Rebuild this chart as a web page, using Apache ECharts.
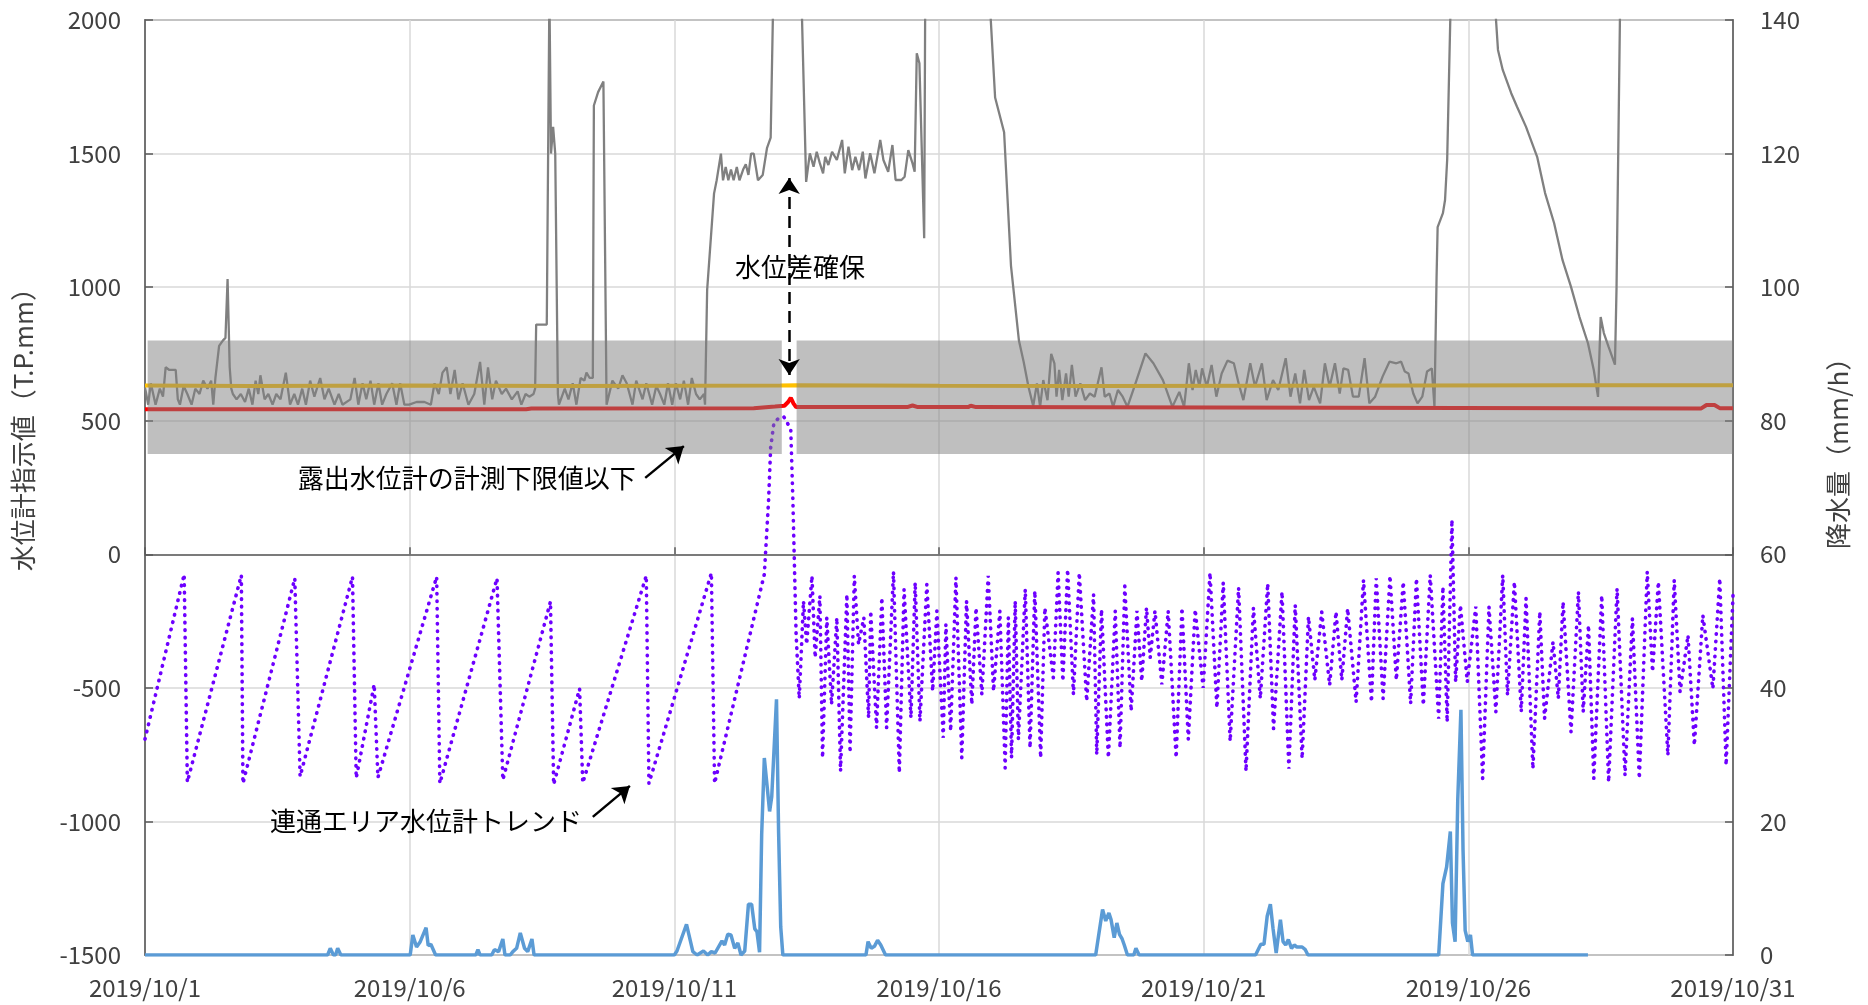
<!DOCTYPE html>
<html><head><meta charset="utf-8">
<script src="https://cdn.jsdelivr.net/npm/echarts@6/dist/echarts.min.js"></script>
<style>html,body{margin:0;padding:0;background:#fff}#c{width:1868px;height:1005px}</style>
</head><body><div id="c"></div>
<script>
// x values = days since 2019/10/1 00:00
const xTickLabels = ['2019/10/1','2019/10/6','2019/10/11','2019/10/16','2019/10/21','2019/10/26','2019/10/31'];
const leftAxisName = '水位計指示値（T.P.mm）';
const rightAxisName = '降水量（mm/h）';

// 露出水位計 (gray)
const exposedLevel = [[0,625],[0.06,560],[0.11,640],[0.2,560],[0.28,620],[0.34,590],[0.39,700],[0.46,690],[0.58,690],[0.62,580],[0.66,560],[0.73,630],[0.8,600],[0.88,560],[0.95,620],[1.03,600],[1.1,650],[1.18,620],[1.25,650],[1.29,560],[1.33,660],[1.4,780],[1.47,800],[1.52,810],[1.56,1030],[1.6,700],[1.63,620],[1.66,600],[1.73,580],[1.81,600],[1.89,570],[1.96,620],[2.03,560],[2.09,650],[2.14,600],[2.18,670],[2.26,580],[2.33,600],[2.41,560],[2.48,600],[2.56,580],[2.66,680],[2.74,560],[2.82,600],[2.89,560],[2.97,620],[3.04,560],[3.12,650],[3.2,590],[3.31,660],[3.39,580],[3.47,620],[3.58,560],[3.66,600],[3.73,560],[3.88,580],[3.96,660],[4.03,560],[4.11,640],[4.18,580],[4.26,650],[4.33,560],[4.41,640],[4.48,560],[4.56,600],[4.67,640],[4.75,560],[4.82,640],[4.9,560],[4.99,560],[5.13,570],[5.28,570],[5.4,560],[5.47,640],[5.55,600],[5.62,680],[5.7,700],[5.77,600],[5.85,690],[5.92,580],[6.0,640],[6.11,560],[6.22,600],[6.33,720],[6.41,560],[6.48,700],[6.56,580],[6.63,650],[6.74,600],[6.82,620],[6.93,580],[7.04,610],[7.11,560],[7.19,600],[7.26,590],[7.34,600],[7.37,620],[7.39,860],[7.59,860],[7.64,2100],[7.67,1500],[7.71,1600],[7.75,1500],[7.8,600],[7.82,560],[7.93,620],[8.0,580],[8.08,640],[8.15,560],[8.23,660],[8.3,650],[8.34,680],[8.4,660],[8.46,660],[8.48,1680],[8.56,1730],[8.66,1770],[8.72,560],[8.83,650],[8.94,620],[9.02,670],[9.1,640],[9.21,560],[9.28,650],[9.4,580],[9.47,640],[9.58,560],[9.66,630],[9.73,600],[9.81,560],[9.88,640],[9.96,560],[10.03,640],[10.11,580],[10.18,650],[10.26,560],[10.33,660],[10.41,600],[10.48,580],[10.56,600],[10.58,560],[10.62,990],[10.75,1350],[10.8,1400],[10.88,1500],[10.92,1400],[10.97,1450],[11.02,1400],[11.07,1440],[11.12,1400],[11.18,1450],[11.23,1400],[11.3,1440],[11.35,1460],[11.4,1420],[11.45,1500],[11.5,1500],[11.58,1400],[11.67,1420],[11.75,1520],[11.82,1560],[11.87,2100],[12.4,2100],[12.49,1394],[12.56,1501],[12.63,1451],[12.69,1507],[12.75,1463],[12.81,1426],[12.85,1488],[12.91,1457],[12.98,1507],[13.07,1476],[13.17,1551],[13.22,1426],[13.29,1526],[13.36,1438],[13.42,1488],[13.49,1438],[13.56,1507],[13.61,1407],[13.7,1501],[13.78,1426],[13.89,1551],[13.95,1476],[14.04,1432],[14.12,1532],[14.18,1401],[14.29,1401],[14.35,1413],[14.42,1513],[14.5,1463],[14.54,1432],[14.58,1875],[14.63,1838],[14.72,1183],[14.74,2100],[15.95,2100],[16.06,1710],[16.23,1580],[16.36,1080],[16.51,800],[16.6,720],[16.69,627],[16.78,555],[16.85,640],[16.91,552],[16.97,652],[17.05,577],[17.12,750],[17.18,715],[17.22,590],[17.27,690],[17.33,577],[17.4,677],[17.45,590],[17.51,709],[17.58,590],[17.67,640],[17.76,577],[17.85,602],[17.94,590],[18.07,700],[18.13,590],[18.22,602],[18.29,552],[18.38,615],[18.47,590],[18.56,552],[18.69,627],[18.9,752],[19.05,715],[19.23,652],[19.41,552],[19.54,608],[19.63,552],[19.72,715],[19.79,615],[19.85,690],[19.92,627],[19.97,696],[20.06,627],[20.15,709],[20.24,590],[20.34,677],[20.45,725],[20.57,715],[20.66,640],[20.75,577],[20.88,715],[20.97,627],[21.1,715],[21.19,577],[21.31,652],[21.41,615],[21.55,734],[21.64,590],[21.73,677],[21.82,565],[21.9,690],[21.99,577],[22.08,627],[22.2,565],[22.29,715],[22.38,627],[22.48,715],[22.57,602],[22.64,696],[22.73,690],[22.82,590],[22.93,590],[23.04,734],[23.13,565],[23.24,590],[23.38,665],[23.51,721],[23.64,715],[23.73,721],[23.8,684],[23.87,677],[23.96,602],[24.04,565],[24.13,590],[24.22,684],[24.31,696],[24.36,552],[24.4,1038],[24.42,1225],[24.52,1277],[24.56,1326],[24.6,1476],[24.67,2100],[25.49,2100],[25.56,1888],[25.65,1813],[25.81,1726],[25.92,1675],[26.09,1600],[26.3,1488],[26.45,1352],[26.62,1240],[26.78,1101],[26.94,1001],[27.1,888],[27.26,790],[27.37,690],[27.45,589],[27.5,888],[27.56,828],[27.65,776],[27.77,710],[27.8,1000],[27.87,2100],[30,2100]];

// 上側基準 (yellow)
const upperLevel = [[0,632],[2,630],[5,632],[8,630],[10,631],[12,632],[12.3,633],[15,631],[18,630],[21,631],[24,632],[27,633],[30,633]];

// 下側基準 (red)
const lowerLevel = [[0,543],[7.2,543],[7.3,546],[11.5,547],[11.9,553],[12.08,556],[12.15,570],[12.2,586],[12.25,565],[12.3,551],[14.4,551],[14.5,557],[14.6,551],[15.55,551],[15.6,556],[15.7,551],[29.4,546],[29.5,559],[29.65,559],[29.75,547],[30,547]];

// 連通エリア水位計トレンド (purple dotted)
const trendLevel = [[0,-692],[0.74,-75],[0.8,-853],[1.82,-78],[1.85,-858],[2.83,-90],[2.93,-832],[3.92,-84],[3.99,-838],[4.33,-487],[4.4,-836],[5.51,-84],[5.57,-858],[6.65,-90],[6.76,-845],[7.66,-177],[7.72,-862],[8.21,-503],[8.27,-856],[9.47,-80],[9.52,-858],[10.7,-70],[10.76,-858],[11.7,-75],[11.78,200],[11.82,400],[11.88,490],[11.97,510],[12.07,514],[12.14,490],[12.2,465],[12.24,200],[12.27,-50],[12.3,-296],[12.36,-540],
[12.44,-175],[12.5,-337],[12.6,-81],[12.66,-387],[12.75,-156],[12.8,-762],[12.88,-237],[12.97,-562],[13.07,-237],[13.14,-812],[13.26,-150],[13.32,-743],[13.4,-81],[13.48,-337],[13.58,-237],[13.67,-612],[13.71,-212],[13.82,-650],[13.92,-162],[14.01,-650],[14.14,-65],[14.25,-818],[14.34,-131],[14.47,-612],[14.55,-106],[14.64,-625],[14.77,-112],[14.88,-512],[14.96,-212],[15.08,-687],[15.13,-262],[15.22,-662],[15.32,-87],[15.43,-762],[15.52,-175],[15.62,-562],[15.7,-200],[15.81,-525],[15.93,-81],[16.03,-512],[16.15,-212],[16.25,-800],[16.31,-237],[16.37,-762],[16.44,-175],[16.5,-693],[16.63,-131],[16.72,-725],[16.81,-137],[16.92,-762],[17.0,-200],[17.16,-462],[17.25,-69],[17.34,-475],[17.43,-56],[17.54,-525],[17.65,-69],[17.79,-550],[17.92,-150],[17.98,-750],[18.07,-206],[18.2,-762],[18.33,-212],[18.42,-725],[18.51,-119],[18.63,-587],[18.74,-212],[18.83,-475],[18.92,-200],[18.99,-387],[19.08,-212],[19.21,-487],[19.33,-212],[19.48,-762],[19.59,-200],[19.71,-693],[19.84,-206],[19.99,-500],[20.12,-69],[20.25,-575],[20.37,-106],[20.5,-700],[20.66,-125],[20.8,-812],[20.94,-200],
[21.07,-540],[21.21,-109],[21.32,-653],[21.48,-140],[21.61,-803],[21.73,-190],[21.86,-765],[21.98,-234],[22.1,-471],[22.23,-215],[22.38,-490],[22.5,-215],[22.61,-471],[22.72,-203],[22.88,-553],[23.02,-96],[23.17,-553],[23.26,-90],[23.39,-540],[23.52,-80],[23.64,-471],[23.77,-103],[23.91,-559],[24.02,-90],[24.15,-565],[24.28,-78],[24.44,-615],[24.52,-121],[24.6,-628],[24.69,129],[24.76,-478],[24.85,-190],[24.98,-478],[25.14,-196],[25.27,-840],[25.39,-196],[25.52,-590],[25.65,-78],[25.74,-528],[25.87,-103],[26.0,-590],[26.09,-165],[26.22,-803],[26.35,-215],[26.44,-615],[26.6,-328],[26.7,-540],[26.79,-178],[26.94,-665],[27.08,-140],[27.17,-590],[27.27,-265],[27.37,-840],[27.52,-153],[27.65,-853],[27.81,-128],[27.96,-828],[28.1,-240],[28.23,-840],[28.38,-65],[28.48,-440],[28.59,-103],[28.77,-753],[28.89,-96],[29.0,-515],[29.15,-303],[29.27,-715],[29.43,-228],[29.62,-503],[29.75,-90],[29.87,-790],[30.0,-153]];

// 降水量 mm/h (blue, right axis)
const rainfall = [[0,0],[3.45,0],[3.5,1],[3.56,0],[3.6,0],[3.64,1],[3.7,0],[5.01,0],[5.06,3],[5.13,1.2],[5.2,2],[5.31,4.1],[5.35,1.4],[5.4,1.6],[5.49,0],[6.25,0],[6.29,0.8],[6.33,0],[6.55,0],[6.6,0.8],[6.68,0.5],[6.76,2.4],[6.8,0],[6.9,0],[6.95,0.5],[7.02,1],[7.09,3.3],[7.17,1],[7.23,0.5],[7.31,2.4],[7.35,0],[10.0,0],[10.05,0.6],[10.23,4.6],[10.35,0.5],[10.43,0],[10.55,0.6],[10.63,0],[10.7,0.5],[10.77,0.3],[10.9,2.1],[10.95,1.5],[11.01,3.1],[11.07,3],[11.14,1],[11.2,1.8],[11.26,0],[11.33,0.6],[11.4,7.6],[11.46,7.6],[11.52,3.9],[11.56,3.5],[11.61,0.4],[11.65,18],[11.7,29.5],[11.8,21.5],[11.84,23.7],[11.93,38.3],[11.97,18.3],[12.01,4.2],[12.05,0],[13.62,0],[13.66,2],[13.72,1],[13.78,1.3],[13.84,2.2],[13.9,1.5],[13.99,0],[17.96,0],[18.09,6.8],[18.15,5.1],[18.21,6.3],[18.25,5.3],[18.31,2.6],[18.36,4.8],[18.41,3.1],[18.46,2.4],[18.5,1.5],[18.56,0],[18.68,0],[18.72,1],[18.78,0],[20.98,0],[21.08,1.6],[21.14,1.6],[21.2,5.8],[21.26,7.6],[21.31,4],[21.37,0.3],[21.45,5.3],[21.5,2],[21.55,1.5],[21.6,2.3],[21.66,1],[21.71,1.5],[21.76,1.2],[21.86,1.2],[21.92,0.8],[21.97,0],[24.44,0],[24.52,10.7],[24.59,13.2],[24.66,18.5],[24.7,4.8],[24.75,2],[24.8,23.2],[24.86,36.7],[24.9,15.7],[24.94,3.7],[24.99,2],[25.04,3],[25.08,0],[27.26,0]];

// 計測下限値以下の帯 (left-axis values) and its two x spans
const bandLevels = [375, 800];
const bandSpans = [[0.05, 12.03], [12.31, 30]];

// annotations
const diffArrow = [[12.17, 1409], [12.17, 671]];
const exposedArrow = [[9.45, 286], [10.18, 405]];
const trendArrow = [[8.46, -983], [9.16, -867]];
const notes = [
  {text: '水位差確保', at: [12.375, 1075]},
  {text: '露出水位計の計測下限値以下', at: [6.08, 286]},
  {text: '連通エリア水位計トレンド', at: [5.31, -998]}
];

const FONT = "'Noto Sans CJK JP', 'Noto Sans', sans-serif";
const chart = echarts.init(document.getElementById('c'));

const option = {
  animation: false,
  backgroundColor: '#fff',
  grid: {left: 145, right: 135, top: 20, bottom: 50, show: true, borderColor: '#595959', borderWidth: 1.5, backgroundColor: 'transparent'},
  xAxis: {
    type: 'value', min: 0, max: 30, interval: 5,
    axisLine: {show: true, lineStyle: {color: '#595959', width: 1.5}},
    axisTick: {show: true, inside: true, length: 7, lineStyle: {color: '#595959', width: 1.5}},
    axisLabel: {margin: 21, color: '#404040', fontSize: 24, fontFamily: FONT, formatter: v => xTickLabels[Math.round(v / 5)]},
    splitLine: {show: true, lineStyle: {color: '#D9D9D9', width: 1.5}}
  },
  yAxis: [{
    type: 'value', min: -1500, max: 2000, interval: 500,
    axisLine: {show: true, lineStyle: {color: '#595959', width: 1.5}},
    axisTick: {show: true, inside: true, length: 8, lineStyle: {color: '#595959', width: 1.5}},
    axisLabel: {margin: 24, color: '#404040', fontSize: 24, fontFamily: FONT, formatter: v => String(v)},
    splitLine: {show: true, lineStyle: {color: '#D9D9D9', width: 1.5}}
  }, {
    type: 'value', min: 0, max: 140, interval: 20, position: 'right',
    axisLine: {show: true, lineStyle: {color: '#595959', width: 1.5}},
    axisTick: {show: true, inside: true, length: 8, lineStyle: {color: '#595959', width: 1.5}},
    axisLabel: {margin: 27, color: '#404040', fontSize: 24, fontFamily: FONT, formatter: v => String(v)},
    splitLine: {show: false}
  }],
  series: [
    {name: '露出水位計', type: 'line', data: exposedLevel, showSymbol: false, z: 2,
     lineStyle: {color: '#808080', width: 2.3}},
    {name: '上限', type: 'line', data: upperLevel, showSymbol: false, z: 3,
     lineStyle: {color: '#FFC000', width: 4}},
    {name: '下限', type: 'line', data: lowerLevel, showSymbol: false, z: 3,
     lineStyle: {color: '#FF0000', width: 4}},
    {name: '連通エリア水位計トレンド', type: 'line', data: trendLevel, showSymbol: false, z: 4,
     lineStyle: {color: '#6E00FF', width: 3.6, type: [0.5, 7], cap: 'round'}},
    {name: '降水量', type: 'line', yAxisIndex: 1, data: rainfall, showSymbol: false, z: 5,
     lineStyle: {color: '#5B9BD5', width: 3.5}},
    {name: 'overlay', type: 'line', data: [], z: 10, silent: true,
     markArea: {silent: true, z: 10, itemStyle: {color: 'rgba(128,128,128,0.5)'},
       data: bandSpans.map(s => [{xAxis: s[0], yAxis: bandLevels[1]}, {xAxis: s[1], yAxis: bandLevels[0]}])},
     markLine: {silent: true, z: 11, label: {show: false}, emphasis: {disabled: true},
       data: [
         [{coord: diffArrow[0], symbol: 'arrow', symbolSize: 16, lineStyle: {color: '#000', width: 2.5, type: [12, 7]}},
          {coord: diffArrow[1], symbol: 'arrow', symbolSize: 16}],
         [{coord: exposedArrow[0], symbol: 'none', lineStyle: {color: '#000', width: 2.5, type: 'solid'}},
          {coord: exposedArrow[1], symbol: 'arrow', symbolSize: 16}],
         [{coord: trendArrow[0], symbol: 'none', lineStyle: {color: '#000', width: 2.5, type: 'solid'}},
          {coord: trendArrow[1], symbol: 'arrow', symbolSize: 16}]
       ]}}
  ]
};
chart.setOption(option);

const gfx = notes.map(n => {
  const p = chart.convertToPixel({xAxisIndex: 0, yAxisIndex: 0}, n.at);
  return {type: 'text', x: p[0], y: p[1], z: 20,
    style: {text: n.text, fill: '#000', font: '26px ' + FONT, textAlign: 'center', textVerticalAlign: 'middle'}};
});
const lp = chart.convertToPixel({yAxisIndex: 0}, 491);
const rp = chart.convertToPixel({yAxisIndex: 0}, 402);
gfx.push({type: 'text', x: 23, y: lp, rotation: Math.PI / 2, z: 20,
  style: {text: leftAxisName, fill: '#404040', font: '26px ' + FONT, textAlign: 'center', textVerticalAlign: 'middle'}});
gfx.push({type: 'text', x: 1838, y: rp, rotation: Math.PI / 2, z: 20,
  style: {text: rightAxisName, fill: '#404040', font: '26px ' + FONT, textAlign: 'center', textVerticalAlign: 'middle'}});
chart.setOption({graphic: gfx});
</script></body></html>
